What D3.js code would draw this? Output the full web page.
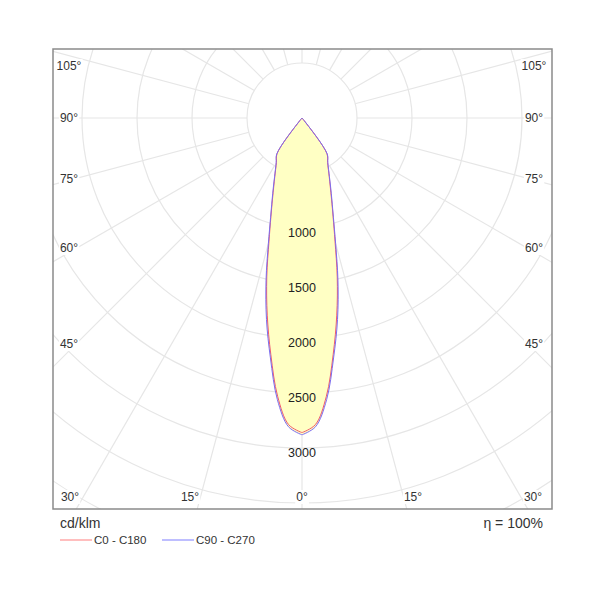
<!DOCTYPE html>
<html><head><meta charset="utf-8">
<script src="https://cdn.jsdelivr.net/npm/d3@7"></script>
<style>body{margin:0;background:#fff}svg{font-family:"Liberation Sans",Arial,sans-serif}</style>
</head><body><svg id="c" width="600" height="600"></svg>
<script>
const gammas = [0,2.5,5,7.5,10,12.5,15,17.5,20,22.5,25,30,35,40,45,60,90,180];
const c0c180 = [2860,2790,2540,2170,1820,1480,1160,940,785,670,585,465,395,30,0,0,0,0];
const c90c270 = [2880,2810,2570,2200,1860,1510,1180,950,795,680,590,470,400,30,0,0,0,0];
const ringValues = [500,1000,1500,2000,2500,3000,3500,4000,4500,5000,5500,6000];
const ringLabels = [1000,1500,2000,2500,3000];
const leftAngleLabels = [["105°",66],["90°",118],["75°",179],["60°",248],["45°",344]];
const bottomAngleLabels = [["30°",70],["15°",190],["0°",302],["15°",413],["30°",533]];

const svg = d3.select("#c");
const W = {l:53,t:49,r:552,b:509};
const cx = 302, cy = 118;
const r = d3.scaleLinear().domain([0,1000]).range([0,110]);

svg.append("defs").append("clipPath").attr("id","clip")
  .append("rect").attr("x",W.l).attr("y",W.t).attr("width",W.r-W.l).attr("height",W.b-W.t);
const g = svg.append("g").attr("clip-path","url(#clip)");

g.selectAll("circle.ring").data(ringValues).join("circle")
  .attr("cx",cx).attr("cy",cy).attr("r",d=>r(d))
  .attr("fill","none").attr("stroke","#e6e6e6").attr("stroke-width",1.2);
const spokes = d3.range(0,360,15);
g.selectAll("line.sp").data(spokes).join("line")
  .attr("x1",d=>cx+r(500)*Math.sin(d*Math.PI/180)).attr("y1",d=>cy+r(500)*Math.cos(d*Math.PI/180))
  .attr("x2",d=>cx+900*Math.sin(d*Math.PI/180)).attr("y2",d=>cy+900*Math.cos(d*Math.PI/180))
  .attr("stroke","#e6e6e6").attr("stroke-width",1.2);

function pts(vals){
  const right = gammas.map((a,i)=>[a,vals[i]]);
  const left = gammas.slice().reverse().map((a,i)=>[-a,vals[vals.length-1-i]]);
  return right.concat(left.slice(1));
}
const line = d3.lineRadial().angle(d=>Math.PI - d[0]*Math.PI/180).radius(d=>r(d[1])).curve(d3.curveCatmullRomClosed.alpha(0.5));
const lobe = g.append("g").attr("transform",`translate(${cx},${cy})`);
lobe.append("path").attr("d",line(pts(c90c270))).attr("fill","#ffffc4").attr("stroke","none");
lobe.append("path").attr("d",line(pts(c0c180))).attr("fill","none").attr("stroke","#f05a6e").attr("stroke-width",1);
lobe.append("path").attr("d",line(pts(c90c270))).attr("fill","none").attr("stroke","#7a6cf0").attr("stroke-width",1);

svg.selectAll("text.rl").data(ringLabels).join("text")
  .attr("x",cx).attr("y",d=>cy+r(d)+9).attr("text-anchor","middle")
  .attr("font-size",12.5).attr("fill","#222").text(d=>d);

function lab(x,y,t){
  const tx = svg.append("text").attr("x",x).attr("y",y+4).attr("text-anchor","middle")
    .attr("font-size",12).attr("fill","#333").text(t);
  const bb = tx.node().getBBox();
  svg.insert("rect","text:last-child").attr("x",bb.x-1).attr("y",bb.y).attr("width",bb.width+2).attr("height",bb.height).attr("fill","#fff");
  tx.raise();
}
leftAngleLabels.forEach(([t,y])=>{lab(69,y,t);lab(534,y,t);});
bottomAngleLabels.forEach(([t,x])=>lab(x,497,t));

svg.append("rect").attr("x",W.l).attr("y",W.t).attr("width",W.r-W.l).attr("height",W.b-W.t)
  .attr("fill","none").attr("stroke","#8a8a8a").attr("stroke-width",1.5);

svg.append("text").attr("x",60).attr("y",528).attr("font-size",14).attr("fill","#333").text("cd/klm");
svg.append("text").attr("x",543).attr("y",528).attr("text-anchor","end").attr("font-size",14).attr("fill","#333").text("η = 100%");
const legend = [["C0 - C180","#ffa8a8",60],["C90 - C270","#a8a8ff",162]];
legend.forEach(([t,col,x])=>{
  svg.append("line").attr("x1",x).attr("x2",x+32).attr("y1",540).attr("y2",540).attr("stroke",col).attr("stroke-width",1.5);
  svg.append("text").attr("x",x+34).attr("y",544).attr("font-size",11.5).attr("fill","#333").text(t);
});
</script></body></html>
